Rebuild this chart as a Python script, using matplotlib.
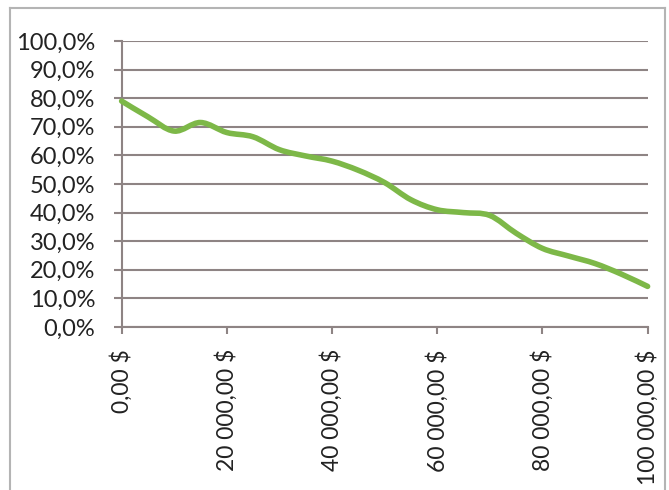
import matplotlib
matplotlib.use("Agg")
import matplotlib.pyplot as plt
from matplotlib.path import Path
from matplotlib.patches import PathPatch
from matplotlib.lines import Line2D
import numpy as np

# Data
income = [0, 5000, 10000, 15000, 20000, 25000, 30000, 35000, 40000, 45000, 50000,
          55000, 60000, 65000, 70000, 75000, 80000, 85000, 90000, 95000, 100000]
share = [79.0, 73.5, 68.5, 71.5, 68.0, 66.5, 62.0, 59.8, 58.0, 54.8, 50.5,
         44.5, 41.0, 40.0, 39.0, 32.8, 27.5, 24.8, 22.2, 18.5, 14.2]
x_ticks = [0, 20000, 40000, 60000, 80000, 100000]
x_labels = ["0,00 $", "20 000,00 $", "40 000,00 $", "60 000,00 $", "80 000,00 $", "100 000,00 $"]
y_ticks = [0, 10, 20, 30, 40, 50, 60, 70, 80, 90, 100]
y_labels = ["0,0%", "10,0%", "20,0%", "30,0%", "40,0%", "50,0%", "60,0%", "70,0%", "80,0%", "90,0%", "100,0%"]

plt.rcParams['font.family'] = ['Lato', 'DejaVu Sans']

fig = plt.figure(figsize=(6.69, 4.90), dpi=100)
ax = fig.add_axes([121.6 / 669, 1 - 327 / 490, (647.6 - 121.6) / 669, (327 - 41) / 490])

grid_col = "#8e8484"
text_col = "#222222"

# smoothed line (Excel-style Bezier through points)
P = np.column_stack([income, share]).astype(float)
n = len(P)
verts = [tuple(P[0])]
codes = [Path.MOVETO]
for i in range(n - 1):
    p0 = P[i - 1] if i > 0 else P[i]
    p1 = P[i]
    p2 = P[i + 1]
    p3 = P[i + 2] if i + 2 < n else P[i + 1]
    c1 = p1 + (p2 - p0) / 6.0
    c2 = p2 - (p3 - p1) / 6.0
    verts += [tuple(c1), tuple(c2), tuple(p2)]
    codes += [Path.CURVE4] * 3
patch = PathPatch(Path(verts, codes), fill=False, edgecolor="#7db848", lw=4.0,
                  capstyle='round', joinstyle='round', zorder=3, clip_on=False)
ax.add_patch(patch)

ax.set_xlim(0, 100000)
ax.set_ylim(0, 100)
ax.set_yticks(y_ticks)
ax.set_yticklabels(y_labels)
ax.set_xticks(x_ticks)
ax.set_xticklabels(x_labels, rotation=90, ha='center', va='top')

ax.yaxis.grid(True, color=grid_col, lw=1.5)
ax.set_axisbelow(True)
for s in ['top', 'right']:
    ax.spines[s].set_visible(False)
for s in ['left', 'bottom']:
    ax.spines[s].set_color(grid_col)
    ax.spines[s].set_linewidth(1.5)

ax.tick_params(axis='y', direction='out', length=6, width=1.5, color=grid_col,
               pad=13, labelsize=17, labelcolor=text_col)
ax.tick_params(axis='x', direction='out', length=5, width=1.5, color=grid_col,
               pad=11, labelsize=16.5, labelcolor=text_col)

# chart border
bc = "#b4b4b4"
fig.add_artist(Line2D([10 / 669, 10 / 669], [0, 1 - 8 / 490], transform=fig.transFigure, color=bc, lw=1.5))
fig.add_artist(Line2D([10 / 669, 665 / 669], [1 - 8 / 490, 1 - 8 / 490], transform=fig.transFigure, color=bc, lw=1.5))
fig.add_artist(Line2D([665 / 669, 665 / 669], [0, 1 - 8 / 490], transform=fig.transFigure, color=bc, lw=1.5))

fig.savefig("out.png", dpi=100)
